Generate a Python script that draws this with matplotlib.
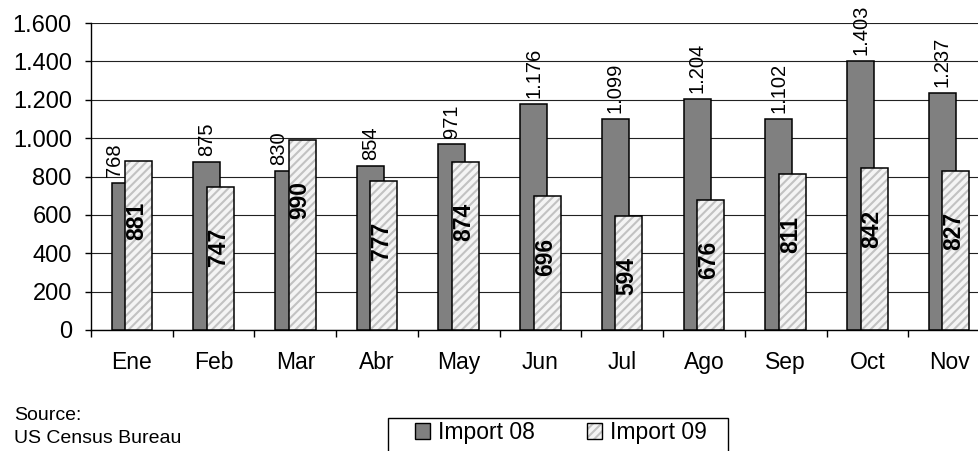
import matplotlib
matplotlib.use("Agg")
import matplotlib.pyplot as plt
from matplotlib.patches import Patch, Rectangle
from matplotlib.ticker import FuncFormatter, MultipleLocator, FixedLocator
from matplotlib.legend_handler import HandlerTuple
import numpy as np

months = ["Ene", "Feb", "Mar", "Abr", "May", "Jun", "Jul", "Ago", "Sep", "Oct", "Nov"]
import08 = [768, 875, 830, 854, 971, 1176, 1099, 1204, 1102, 1403, 1237]
import09 = [881, 747, 990, 777, 874, 696, 594, 676, 811, 842, 827]
series_names = ["Import 08", "Import 09"]
source_lines = ["Source:", "US Census Bureau"]

plt.rcParams['font.family'] = ['Liberation Sans', 'DejaVu Sans']
plt.rcParams['hatch.linewidth'] = 1.5

W, H = 979, 451
fig = plt.figure(figsize=(W / 100, H / 100), dpi=100)
ax = fig.add_axes([91 / W, 1 - 330 / H, (990 - 91) / W, (330 - 23) / H])

x = np.arange(len(months))
bw = 0.33
off08, off09 = -0.084, 0.082
hatch_col = "#c2c2c2"

def fmt(v):
    return f"{int(v):,}".replace(",", ".")

ax.bar(x + off08, import08, width=bw, color="#808080", edgecolor="black", linewidth=1.1, zorder=3)
ax.bar(x + off09, import09, width=bw, color="#f4f4f4", edgecolor=hatch_col, linewidth=0, hatch="////", zorder=4)
ax.bar(x + off09, import09, width=bw, fill=False, edgecolor="black", linewidth=1.1, zorder=5)

for i in range(len(months)):
    dx = -10 if import09[i] > import08[i] else 0
    ax.annotate(fmt(import08[i]), (x[i] + off08, import08[i]), xytext=(dx, 6),
                textcoords="offset pixels", rotation=90, ha="center", va="bottom",
                fontsize=14.5, zorder=6, annotation_clip=False)
    ax.annotate(fmt(import09[i]), (x[i] + off09, import09[i]), xytext=(-2, -60),
                textcoords="offset pixels", rotation=90, ha="center", va="center",
                fontsize=16.5, fontweight="bold", zorder=6)

ax.set_xlim(-0.5, len(months) - 0.5)
ax.set_ylim(0, 1600)
ax.yaxis.set_major_locator(MultipleLocator(200))
ax.yaxis.set_major_formatter(FuncFormatter(lambda v, p: fmt(v)))
ax.grid(axis="y", color="#222222", linewidth=0.8, zorder=0)
ax.set_axisbelow(True)

ax.set_xticks(x)
ax.set_xticklabels(months)
ax.xaxis.set_minor_locator(FixedLocator(np.arange(-0.5, len(months), 1.0)))
ax.tick_params(axis="x", which="major", length=0, pad=15, labelsize=16.5)
ax.tick_params(axis="x", which="minor", length=5, width=1, direction="out", color="black")
ax.tick_params(axis="y", which="major", length=4.3, width=1, pad=9.5, labelsize=17, direction="out")

for s in ["top", "right"]:
    ax.spines[s].set_visible(False)
ax.spines["left"].set_linewidth(1)
ax.spines["bottom"].set_linewidth(1)

# Legend
h08 = Patch(facecolor="#808080", edgecolor="black", linewidth=1)
h09a = Patch(facecolor="#f4f4f4", edgecolor=hatch_col, linewidth=0, hatch="////")
h09b = Patch(facecolor="none", edgecolor="black", linewidth=1)
fig.legend([h08, (h09a, h09b)], series_names, handler_map={tuple: HandlerTuple(ndivide=1)},
           loc="upper left", bbox_to_anchor=(415 / W, 1 - 421 / H), frameon=False,
           ncol=2, fontsize=16.5, borderpad=0, borderaxespad=0, handlelength=0.65,
           handleheight=0.65, handletextpad=0.35, columnspacing=2.27)
fig.patches.append(Rectangle((388 / W, 1 - 470 / H), (728 - 388) / W, (470 - 418) / H,
                             transform=fig.transFigure, fill=False, edgecolor="black", linewidth=1))

fig.text(14 / W, 1 - 420 / H, source_lines[0], fontsize=14, va="baseline", ha="left")
fig.text(14 / W, 1 - 443 / H, source_lines[1], fontsize=14, va="baseline", ha="left")

fig.savefig("out.png", dpi=100)
